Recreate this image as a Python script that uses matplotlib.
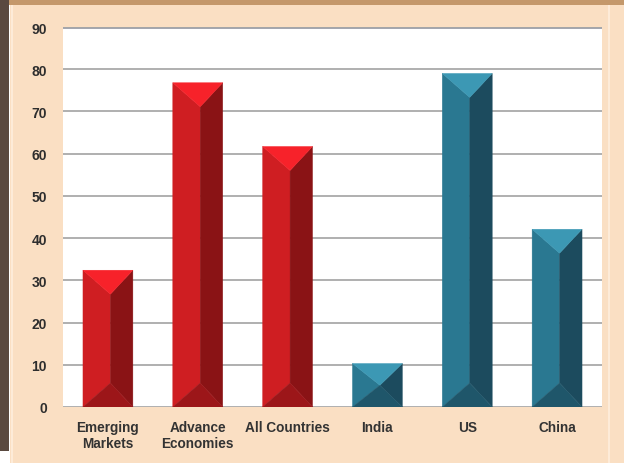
import matplotlib
matplotlib.use("Agg")
import matplotlib.pyplot as plt
from matplotlib.patches import Polygon, Rectangle

# Chart data
categories = ["Emerging\nMarkets", "Advance\nEconomies", "All Countries", "India", "US", "China"]
values = [32.4, 76.8, 61.7, 10.3, 79.0, 42.1]
groups = ["red", "red", "red", "teal", "teal", "teal"]
yticks = [0, 10, 20, 30, 40, 50, 60, 70, 80, 90]

# Face shades for the bevelled columns
palettes = {
    "red": dict(top="#f7222a", left="#cf1e22", right="#8a1315", bottom="#9c1619"),
    "teal": dict(top="#3c98b4", left="#2a7891", right="#1c4b5e", bottom="#1f566a"),
}

W, H = 624, 464
fig = plt.figure(figsize=(W / 100, H / 100), dpi=100, facecolor="white")


def frame_rect(x0, y0, w, h, color, z=-5):
    """Rectangle in pixel units measured from the top-left corner."""
    fig.patches.append(Rectangle((x0 / W, 1 - (y0 + h) / H), w / W, h / H,
                                 transform=fig.transFigure, facecolor=color,
                                 edgecolor="none", zorder=z))


# Panel background and border bands
frame_rect(10, 0, W - 10, H, "#fadfc3", -6)
frame_rect(0, 0, 9, 452, "#5a4940", -5)
frame_rect(9, 0, W - 9, 6, "#c4986b", -5)
frame_rect(11, 6, 1.5, H - 6, "#fdebd8", -5)
frame_rect(608, 6, 1.5, H - 6, "#fdebd8", -5)

ax_left, ax_right, ax_top, ax_bottom = 63, 602, 28, 408
ax = fig.add_axes([ax_left / W, 1 - ax_bottom / H,
                   (ax_right - ax_left) / W, (ax_bottom - ax_top) / H])
ax.set_facecolor("white")
ax.set_xlim(-0.5, len(categories) - 0.5)
ax.set_ylim(0, 90)
for s in ax.spines.values():
    s.set_visible(False)

ax.set_yticks(yticks)
ax.set_xticks(range(len(categories)))
ax.set_xticklabels(categories)
ax.yaxis.grid(True, color="#a9a9a9", lw=1.3)
ax.set_axisbelow(True)
ax.axhline(90, color="#868b98", lw=1.8, zorder=0.5)
ax.tick_params(axis="both", length=0)
ax.tick_params(axis="y", pad=11.5)
ax.tick_params(axis="x", pad=9.5)
for lab in ax.get_yticklabels():
    lab.set_fontfamily("Liberation Sans")
    lab.set_fontsize(10)
    lab.set_fontweight("bold")
    lab.set_color("#2e2e2e")
for lab in ax.get_xticklabels():
    lab.set_fontfamily("Liberation Sans")
    lab.set_fontsize(9.8)
    lab.set_fontweight("bold")
    lab.set_color("#333333")
    lab.set_linespacing(1.15)

# Bevelled columns
bar_w = 50 / 90
ridge_frac = 0.55
bevel_px = 24
units_per_px = 90 / (ax_bottom - ax_top)

for i, (v, g) in enumerate(zip(values, groups)):
    pal = palettes[g]
    L = i - bar_w / 2
    R = i + bar_w / 2
    xr = L + ridge_frac * bar_w
    d = min(bevel_px * units_per_px, v / 2)
    top, bot = v, 0
    faces = [
        ([(L, top), (xr, top - d), (xr, bot + d), (L, bot)], pal["left"]),
        ([(R, top), (R, bot), (xr, bot + d), (xr, top - d)], pal["right"]),
        ([(L, bot), (R, bot), (xr, bot + d)], pal["bottom"]),
        ([(L, top), (R, top), (xr, top - d)], pal["top"]),
    ]
    for pts, c in faces:
        ax.add_patch(Polygon(pts, closed=True, facecolor=c, edgecolor=c,
                             lw=0.3, zorder=2))

fig.savefig("out.png", dpi=100, facecolor=fig.get_facecolor())
